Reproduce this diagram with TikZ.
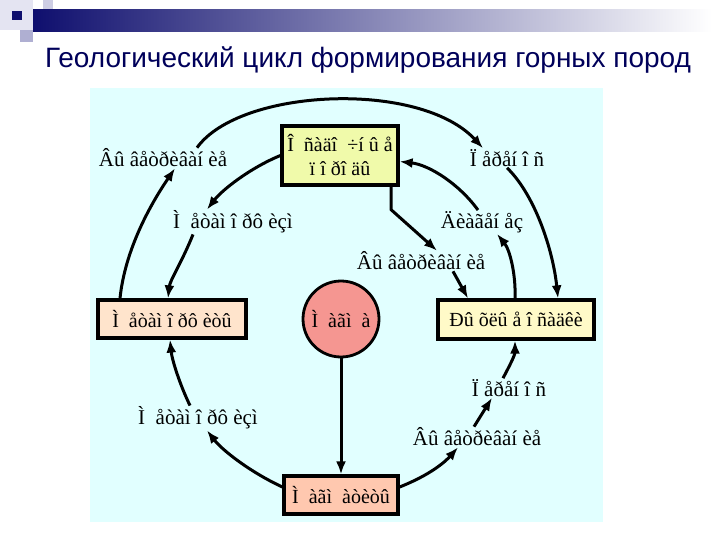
\documentclass[tikz,border=0pt]{standalone}
\usepackage{fontspec}
\setmainfont{Liberation Serif}
\newfontfamily\titlefont{Liberation Sans}
\usetikzlibrary{arrows.meta}
\definecolor{bgcyan}{RGB}{225,255,255}
\definecolor{topfill}{RGB}{240,250,170}
\definecolor{leftfill}{RGB}{255,228,204}
\definecolor{rightfill}{RGB}{255,250,200}
\definecolor{botfill}{RGB}{255,200,175}
\definecolor{magmafill}{RGB}{245,150,145}
\definecolor{titleblue}{RGB}{0,0,90}
\definecolor{navy}{RGB}{15,15,110}
\definecolor{lav1}{RGB}{228,228,242}
\definecolor{lav2}{RGB}{175,175,210}
\definecolor{lav3}{RGB}{205,205,228}
\tikzset{
  rockbox/.style={draw=black, line width=3.2pt, inner sep=2pt, align=center,
    font=\fontsize{20}{24}\selectfont},
  proclabel/.style={inner sep=1pt, font=\fontsize{21}{24}\selectfont},
  conn/.style={line width=3pt, -{Latex[length=13pt,width=10pt]}},
}
\begin{document}
\begin{tikzpicture}[x=1pt,y=-1pt]
\useasboundingbox (0,0) rectangle (720,540);
\fill[white] (0,0) rectangle (720,540);
% header decoration
\fill[lav1] (0,0) rectangle (33,30);
\fill[lav3] (43,0) rectangle (53,10);
\shade[left color=navy, right color=white] (33,10) rectangle (712,32);
\fill[lav2] (20,30) rectangle (33,42);
\fill[navy] (12,11) rectangle (22,20);
% title
\node[font=\titlefont\fontsize{28}{32}\selectfont, text=titleblue, anchor=base] (title) at (368,68) {Геологический цикл формирования горных пород};
% background panel
\fill[bgcyan] (90,88) rectangle (603,522);
% rock nodes
\node[rockbox, fill=topfill, minimum width=116pt, minimum height=59pt] (tbox) at (340,155.5) {Î\ \ ñàäî\ \ ÷í û å\\ï î ðî äû};
\node[rockbox, fill=leftfill, minimum width=148pt, minimum height=38pt] (lbox) at (172,319) {Ì\ \ åòàì î ðô èòû};
\node[rockbox, fill=rightfill, minimum width=156pt, minimum height=39pt] (rbox) at (516,319.5) {Ðû õëû å î ñàäêè};
\node[rockbox, fill=botfill, minimum width=114pt, minimum height=38pt] (bbox) at (341,495) {Ì\ \ àãì\ \ àòèòû};
\node[circle, draw=black, line width=2.8pt, fill=magmafill, minimum size=76pt, inner sep=0pt, font=\fontsize{20}{24}\selectfont] (magma) at (341,319) {Ì\ \ àãì\ \ à};
% process labels
\node[proclabel] (w1) at (163,158) {Âû âåòðèâàí èå};
\node[proclabel] (m1) at (233,222) {Ì\ \ åòàì î ðô èçì};
\node[proclabel] (p1) at (507,158) {Ï åðåí î ñ};
\node[proclabel] (d1) at (482,222) {Äèàãåí åç};
\node[proclabel] (w2) at (421,261) {Âû âåòðèâàí èå};
\node[proclabel] (m2) at (198,418) {Ì\ \ åòàì î ðô èçì};
\node[proclabel] (p2) at (509,388) {Ï åðåí î ñ};
\node[proclabel] (w3) at (477,437) {Âû âåòðèâàí èå};
% connectors
\draw[conn] ([xshift=-52pt]lbox.north) .. controls (125,250) and (150,205) .. ([xshift=12pt]w1.south);
\draw[conn] ([xshift=34pt]w1.north) .. controls (240,88) and (420,80) .. ([xshift=-24pt]p1.north);
\draw[conn] (p1.south) .. controls (535,195) and (553,250) .. ([xshift=42pt]rbox.north);
\draw[conn] (tbox.west) .. controls (250,168) and (222,190) .. ([xshift=-26pt]m1.north);
\draw[conn] ([xshift=-40pt]m1.south) .. controls (182,262) and (170,280) .. ([xshift=-4pt]lbox.north);
\draw[conn] ([xshift=-1pt]rbox.north) .. controls (516,275) and (510,250) .. ([xshift=15pt]d1.south);
\draw[conn] ([xshift=-4pt]d1.north) .. controls (460,185) and (430,165) .. ([yshift=-6pt]tbox.east);
\draw[conn] ([xshift=51pt]tbox.south) -- ++(0,23) -- ([xshift=16pt]w2.north);
\draw[conn] ([xshift=32pt]w2.south) -- ([xshift=-48pt]rbox.north);
\draw[conn] ([yshift=8pt]bbox.west) .. controls (250,472) and (222,450) .. ([xshift=9pt]m2.south);
\draw[conn] ([xshift=-8pt]m2.north) .. controls (180,385) and (172,360) .. ([xshift=-2pt]lbox.south);
\draw[conn] ([yshift=8pt]bbox.east) .. controls (430,475) and (445,462) .. ([xshift=-19pt]w3.south);
\draw[conn] ([xshift=-3pt]w3.north) -- ([xshift=-17pt]p2.south);
\draw[conn] ([xshift=-6pt]p2.north) .. controls (510,365) and (515,355) .. ([xshift=-1pt]rbox.south);
\draw[conn] (magma.south) -- (bbox.north);
\end{tikzpicture}
\end{document}
